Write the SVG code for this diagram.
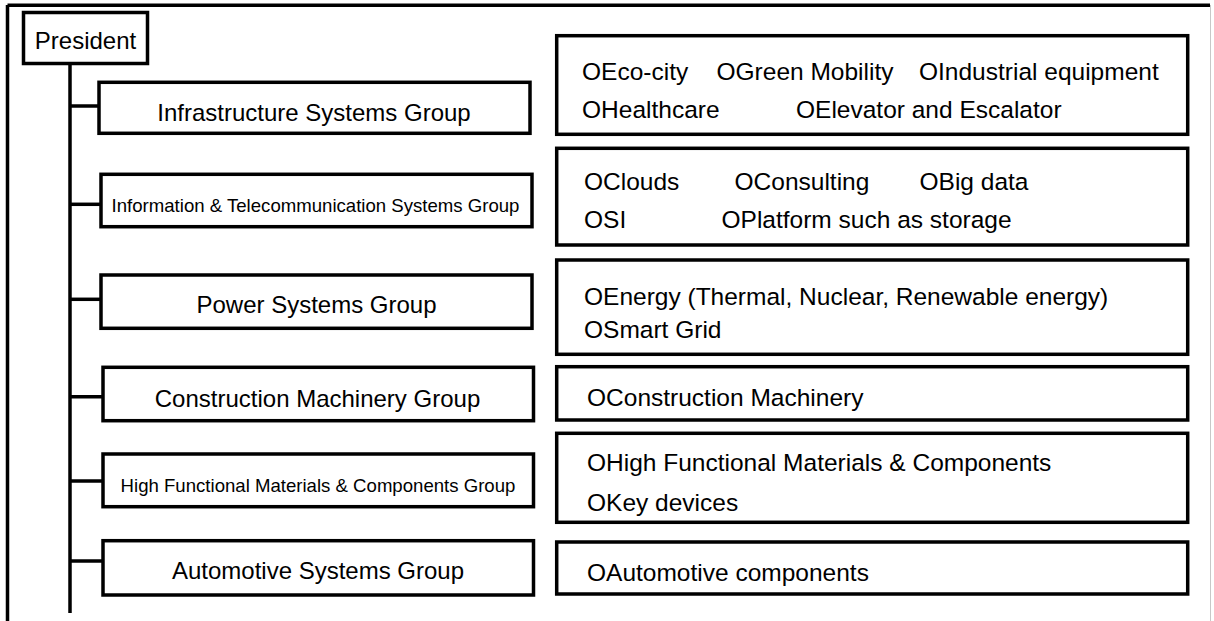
<svg xmlns="http://www.w3.org/2000/svg" width="1214" height="621" viewBox="0 0 1214 621">
<style>
.box{fill:#fff;stroke:#000;stroke-width:3.5}
.ln{stroke:#000;stroke-width:3.5;fill:none}
.t{font-family:"Liberation Sans",Arial,sans-serif;fill:#000}
.big{font-size:24px}
.it{font-size:24.5px}
.sm{font-size:18.6px}
.c{text-anchor:middle}
</style>
<rect width="1214" height="621" fill="#fff"/>
<g id="frame">
<line x1="1210.5" y1="5" x2="1210.5" y2="621" stroke="#c8c8c8" stroke-width="1"/>
<line x1="7.5" y1="5.3" x2="1210" y2="5.3" class="ln" stroke-width="4"/>
<line x1="7.5" y1="5" x2="7.5" y2="621" class="ln" stroke-width="3.5"/>
</g>
<g id="connectors">
<line class="ln" x1="70" y1="63" x2="70" y2="613"/>
<line class="ln" x1="70" y1="106" x2="99" y2="106"/>
<line class="ln" x1="70" y1="204.3" x2="101" y2="204.3"/>
<line class="ln" x1="70" y1="299.3" x2="101" y2="299.3"/>
<line class="ln" x1="70" y1="396.7" x2="103" y2="396.7"/>
<line class="ln" x1="70" y1="481" x2="103" y2="481"/>
<line class="ln" x1="70" y1="561" x2="103" y2="561"/>
</g>
<g id="president">
<rect class="box" x="23.5" y="12.5" width="124" height="51" stroke-width="4"/>
<text class="t big c" x="85.5" y="48.5">President</text>
</g>
<g id="infrastructure">
<rect class="box" x="99" y="82.3" width="431" height="51"/>
<text class="t big c" x="314" y="121">Infrastructure Systems Group</text>
</g>
<g id="information">
<rect class="box" x="101" y="174.3" width="431" height="52.4"/>
<text class="t sm c" x="315.5" y="211.5">Information &amp; Telecommunication Systems Group</text>
</g>
<g id="power">
<rect class="box" x="101" y="275" width="431" height="53.3"/>
<text class="t big c" x="316.5" y="313">Power Systems Group</text>
</g>
<g id="construction">
<rect class="box" x="103" y="367.3" width="430.5" height="53.4"/>
<text class="t big c" x="317.5" y="406.5">Construction Machinery Group</text>
</g>
<g id="materials">
<rect class="box" x="103" y="454" width="430.5" height="52.7"/>
<text class="t sm c" x="318" y="491.5">High Functional Materials &amp; Components Group</text>
</g>
<g id="automotive">
<rect class="box" x="103" y="540.7" width="430.5" height="54.3"/>
<text class="t big c" x="318" y="579">Automotive Systems Group</text>
</g>
<g id="infra-items">
<rect class="box" x="556.7" y="35.7" width="631" height="98.6"/>
<text class="t it" x="582" y="79.5">OEco-city</text>
<text class="t it" x="716.5" y="79.5">OGreen Mobility</text>
<text class="t it" x="919" y="79.5">OIndustrial equipment</text>
<text class="t it" x="582" y="117.5">OHealthcare</text>
<text class="t it" x="796" y="117.5">OElevator and Escalator</text>
</g>
<g id="info-items">
<rect class="box" x="556.7" y="148.3" width="631" height="96.7"/>
<text class="t it" x="584" y="190">OClouds</text>
<text class="t it" x="734.5" y="190">OConsulting</text>
<text class="t it" x="919.5" y="190">OBig data</text>
<text class="t it" x="584" y="228">OSI</text>
<text class="t it" x="721.5" y="228">OPlatform such as storage</text>
</g>
<g id="power-items">
<rect class="box" x="556.7" y="260" width="631" height="94.3"/>
<text class="t it" x="584" y="305">OEnergy (Thermal, Nuclear, Renewable energy)</text>
<text class="t it" x="584" y="337.5">OSmart Grid</text>
</g>
<g id="construction-items">
<rect class="box" x="556.7" y="366.7" width="631" height="53.3"/>
<text class="t it" x="587" y="406">OConstruction Machinery</text>
</g>
<g id="materials-items">
<rect class="box" x="556.7" y="433.3" width="631" height="89"/>
<text class="t it" x="587" y="471">OHigh Functional Materials &amp; Components</text>
<text class="t it" x="587" y="511">OKey devices</text>
</g>
<g id="automotive-items">
<rect class="box" x="556.7" y="542" width="631" height="52"/>
<text class="t it" x="587" y="581">OAutomotive components</text>
</g>
</svg>
